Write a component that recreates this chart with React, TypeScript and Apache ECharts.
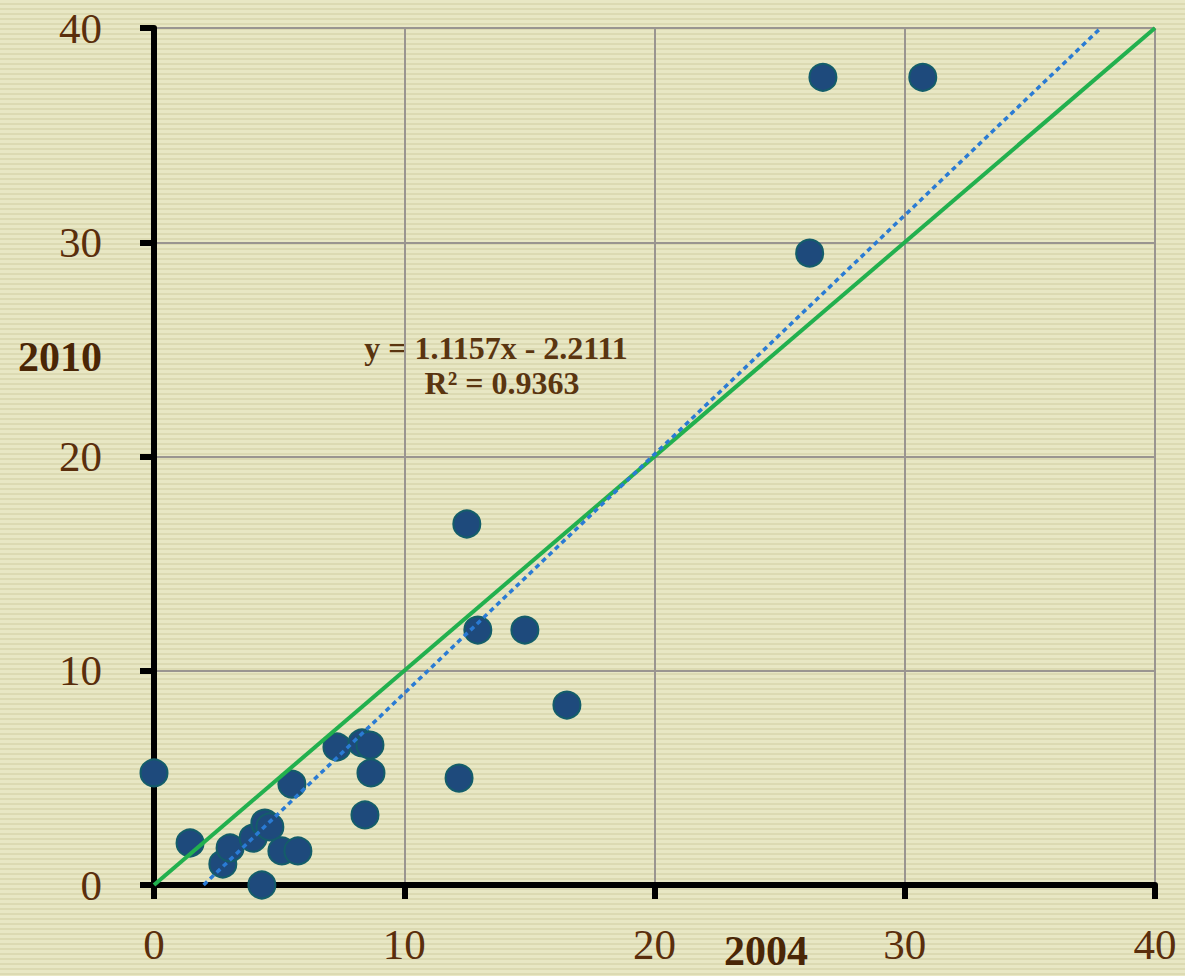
import React, { useEffect, useRef } from "react";
import * as echarts from "echarts";

const x2004 = [0, 1.44, 2.75, 3.04, 3.96, 4.31, 4.43, 4.63, 5.11, 5.75, 5.51, 7.31, 8.31, 8.63, 8.67, 8.43, 12.19, 12.5, 12.94, 14.82, 16.5, 26.2, 26.73, 30.72];
const y2010 = [5.23, 1.96, 0.98, 1.73, 2.19, 0, 2.89, 2.71, 1.59, 1.59, 4.71, 6.44, 6.63, 6.53, 5.23, 3.27, 4.99, 16.85, 11.9, 11.9, 8.4, 29.49, 37.7, 37.7];
const trendSlope = 1.1157;
const trendIntercept = -2.2111;
const equationLines = ["y = 1.1157x - 2.2111", "R² = 0.9363"];
const axisTicks = [0, 10, 20, 30, 40];
const xAxisTitle = "2004";
const yAxisTitle = "2010";

export default function App() {
  const ref = useRef<HTMLDivElement>(null);
  useEffect(() => {
    if (!ref.current) return;
    const chart = echarts.init(ref.current, null, { renderer: "svg" });
    const points = x2004.map((x, i) => [x, y2010[i]]);
    const xStart = (0 - trendIntercept) / trendSlope;
    const xEnd = (40 - trendIntercept) / trendSlope;
    const trend = [
      [xStart, trendSlope * xStart + trendIntercept],
      [xEnd, trendSlope * xEnd + trendIntercept],
    ];
    const labelColor = "#5a2e0c";
    const font = "'Liberation Serif', 'Times New Roman', serif";
    chart.setOption({
      animation: false,
      backgroundColor: "transparent",
      grid: { left: 154, right: 30, top: 28, bottom: 91 },
      xAxis: {
        type: "value",
        min: axisTicks[0],
        max: axisTicks[axisTicks.length - 1],
        interval: 10,
        axisLine: { show: true, onZero: false, lineStyle: { color: "#000", width: 6 } },
        axisTick: { show: true, inside: false, length: 14, lineStyle: { color: "#000", width: 6 } },
        axisLabel: { color: labelColor, fontFamily: font, fontSize: 43, margin: 38 },
        splitLine: { show: true, lineStyle: { color: "#9a9590", width: 2 } },
      },
      yAxis: {
        type: "value",
        min: axisTicks[0],
        max: axisTicks[axisTicks.length - 1],
        interval: 10,
        axisLine: { show: true, onZero: false, lineStyle: { color: "#000", width: 6 } },
        axisTick: { show: true, inside: false, length: 14, lineStyle: { color: "#000", width: 6 } },
        axisLabel: { color: labelColor, fontFamily: font, fontSize: 43, margin: 52 },
        splitLine: { show: true, lineStyle: { color: "#9a9590", width: 2 } },
      },
      series: [
        {
          type: "scatter",
          data: points,
          symbolSize: 27,
          itemStyle: { color: "#1e4a7c", borderColor: "#145d6a", borderWidth: 2, opacity: 1 },
        },
        {
          type: "line",
          data: [[0, 0], [40, 40]],
          symbol: "none",
          lineStyle: { color: "#22b04e", width: 4 },
        },
        {
          type: "line",
          data: trend,
          symbol: "none",
          lineStyle: { color: "#2a7bd4", width: 3.5, type: [5, 4], cap: "butt" },
        },
      ],
      graphic: [
        {
          type: "text",
          left: 18,
          top: 336,
          style: { text: yAxisTitle, fill: "#4a2606", font: `bold 42px ${font}` },
        },
        {
          type: "text",
          left: 724,
          top: 930,
          style: { text: xAxisTitle, fill: "#4a2606", font: `bold 42px ${font}` },
        },
        {
          type: "text",
          x: 496,
          y: 348,
          style: {
            text: equationLines[0],
            fill: "#5a3510",
            font: `bold 32px ${font}`,
            textAlign: "center",
            textVerticalAlign: "middle",
          },
        },
        {
          type: "text",
          x: 502,
          y: 383,
          style: {
            text: equationLines[1],
            fill: "#5a3510",
            font: `bold 32px ${font}`,
            textAlign: "center",
            textVerticalAlign: "middle",
          },
        },
      ],
    });
    return () => chart.dispose();
  }, []);
  return (
    <div
      style={{
        position: "fixed",
        left: 0,
        top: 0,
        width: 1185,
        height: 976,
        background:
          "repeating-linear-gradient(180deg, #e8e7c4 0px, #e8e7c4 3px, #dcdab2 3px, #dcdab2 5px)",
      }}
    >
      <div ref={ref} style={{ width: 1185, height: 976 }} />
    </div>
  );
}
